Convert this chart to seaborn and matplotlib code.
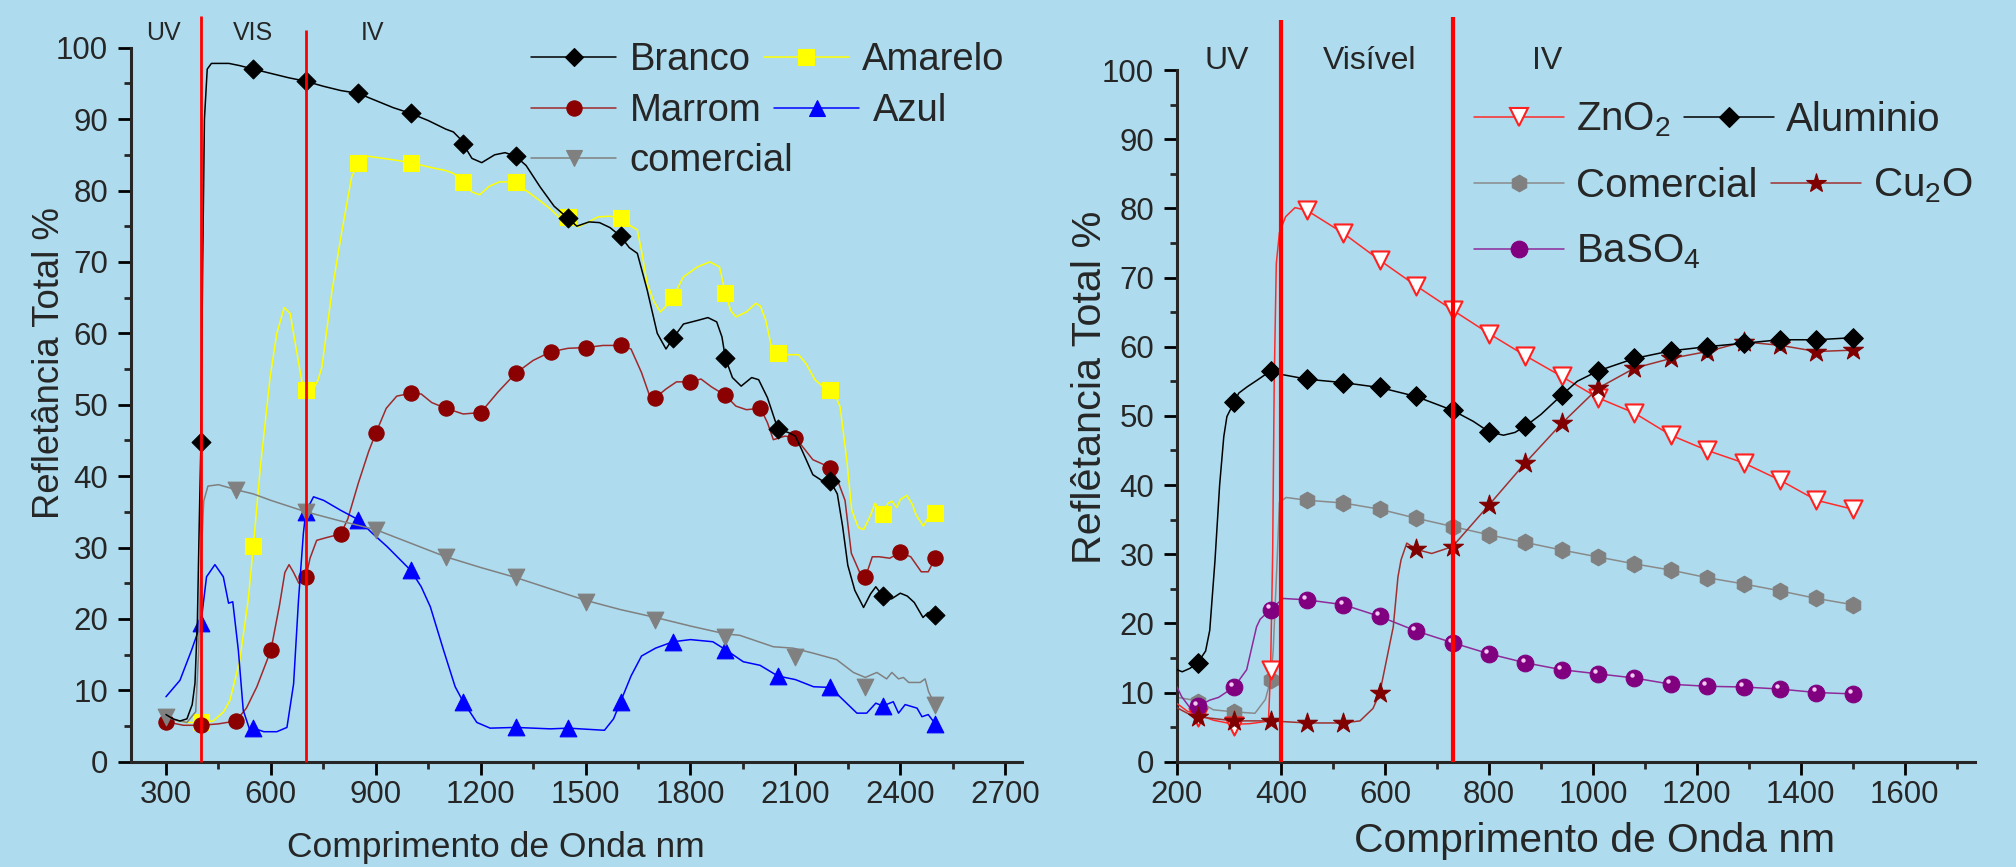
import numpy as np
import pandas as pd
import matplotlib
matplotlib.use("Agg")
import matplotlib.pyplot as plt
import seaborn as sns
from matplotlib.lines import Line2D
from matplotlib.transforms import offset_copy

# ---------------- LEFT PANEL DATA ----------------
branco_cx = [300, 320, 340, 360, 375, 383, 390, 395, 400, 405, 410, 418, 430, 480, 510, 550, 600, 650, 700, 750,
             800, 850, 900, 950, 1000, 1050, 1100, 1122, 1140, 1150, 1175, 1203, 1240, 1270, 1300, 1330, 1370,
             1410, 1450, 1475, 1510, 1540, 1570, 1600, 1625, 1648, 1676, 1705, 1730, 1750, 1780, 1820, 1850,
             1875, 1890, 1900, 1920, 1945, 1975, 1995, 2020, 2050, 2080, 2100, 2120, 2150, 2175, 2200, 2220,
             2235, 2250, 2270, 2295, 2315, 2330, 2350, 2375, 2400, 2420, 2440, 2465, 2480, 2500]
branco_cy = [6.6, 6.0, 5.7, 6.0, 8.0, 11.0, 20.0, 33.0, 44.8, 70.0, 90.0, 97.0, 97.8, 97.8, 97.5, 97.0, 96.4, 95.8,
             95.3, 94.6, 94.0, 93.6, 92.6, 91.6, 90.8, 89.8, 88.6, 88.2, 87.3, 86.5, 84.5, 83.9, 85.0, 85.3, 84.8,
             83.5, 80.5, 77.8, 76.1, 75.0, 75.6, 75.5, 74.8, 73.6, 72.0, 71.2, 66.1, 60.0, 57.8, 59.3, 61.3, 61.8,
             62.2, 61.6, 59.5, 56.5, 53.8, 52.6, 53.8, 53.5, 51.0, 46.6, 46.1, 45.6, 43.5, 40.2, 39.4, 39.3, 37.5,
             33.0, 27.5, 24.0, 21.6, 23.5, 24.5, 23.2, 22.8, 23.6, 23.2, 22.3, 20.2, 20.9, 20.5]
branco_mx = [400, 550, 700, 850, 1000, 1150, 1300, 1450, 1600, 1750, 1900, 2050, 2200, 2350, 2500]
branco_my = [44.8, 97.0, 95.3, 93.6, 90.8, 86.5, 84.8, 76.1, 73.6, 59.3, 56.5, 46.6, 39.3, 23.2, 20.5]

amarelo_cx = [330, 360, 400, 435, 465, 483, 511, 535, 550, 570, 598, 617, 638, 655, 674, 688, 700, 720, 735, 746,
              775, 802, 831, 850, 878, 950, 1000, 1060, 1100, 1122, 1150, 1175, 1197, 1225, 1253, 1300, 1330, 1366,
              1400, 1423, 1450, 1479, 1505, 1535, 1570, 1600, 1630, 1648, 1662, 1676, 1695, 1714, 1730, 1750, 1780,
              1820, 1855, 1883, 1900, 1915, 1930, 1960, 1987, 2000, 2015, 2030, 2050, 2080, 2109, 2130, 2156, 2180,
              2200, 2215, 2228, 2247, 2261, 2280, 2295, 2315, 2328, 2350, 2365, 2376, 2390, 2400, 2419, 2435, 2445,
              2466, 2480, 2500]
amarelo_cy = [5.8, 5.5, 5.5, 5.7, 7.0, 8.6, 14.2, 22.6, 30.2, 41.3, 53.9, 60.0, 63.6, 62.8, 57.4, 53.4, 52.0, 52.0,
              53.5, 55.3, 66.0, 74.0, 81.9, 83.9, 84.8, 84.3, 83.9, 83.2, 82.8, 82.4, 81.2, 79.8, 79.4, 80.6, 81.2,
              81.2, 80.0, 78.7, 77.4, 76.3, 76.3, 74.9, 75.5, 76.3, 76.4, 76.1, 75.0, 74.5, 71.0, 67.0, 64.5, 63.0,
              63.8, 65.1, 67.9, 69.3, 70.0, 69.3, 65.6, 63.2, 62.3, 63.0, 64.2, 63.8, 61.9, 58.5, 57.2, 57.0, 57.0,
              55.8, 53.5, 52.5, 52.1, 51.2, 49.7, 42.3, 35.3, 32.8, 32.5, 34.5, 36.2, 34.7, 36.2, 36.5, 35.6, 36.7,
              37.3, 36.0, 34.6, 33.0, 34.2, 34.9]
amarelo_mx = [400, 550, 700, 850, 1000, 1150, 1300, 1450, 1600, 1750, 1900, 2050, 2200, 2350, 2500]
amarelo_my = [5.5, 30.2, 52.0, 83.9, 83.9, 81.2, 81.2, 76.3, 76.1, 65.1, 65.6, 57.2, 52.1, 34.7, 34.9]

marrom_cx = [300, 350, 400, 450, 500, 530, 560, 600, 625, 640, 652, 665, 680, 700, 712, 731, 760, 800, 820, 850,
             880, 900, 930, 960, 1000, 1030, 1060, 1100, 1150, 1200, 1250, 1300, 1350, 1400, 1450, 1500, 1550,
             1600, 1630, 1660, 1685, 1700, 1730, 1760, 1800, 1830, 1860, 1900, 1930, 1960, 2000, 2020, 2037,
             2070, 2100, 2150, 2200, 2220, 2242, 2260, 2285, 2300, 2320, 2340, 2370, 2400, 2430, 2460, 2480, 2500]
marrom_cy = [5.6, 5.1, 5.1, 5.3, 5.7, 7.5, 10.5, 15.6, 22.0, 26.5, 27.6, 26.5, 25.0, 25.8, 28.5, 31.0, 31.4, 31.9,
             34.0, 39.0, 43.5, 46.0, 49.5, 51.2, 51.6, 51.5, 50.3, 49.5, 48.7, 48.9, 51.8, 54.4, 56.2, 57.4, 57.9,
             58.0, 58.3, 58.3, 57.8, 54.5, 51.0, 51.0, 52.2, 53.2, 53.2, 53.6, 52.5, 51.3, 49.8, 49.3, 49.5, 47.5,
             45.1, 45.6, 45.4, 42.3, 41.2, 39.5, 36.6, 29.2, 26.4, 25.8, 28.7, 28.7, 28.5, 29.3, 28.7, 26.6, 26.6,
             28.5]
marrom_mx = [300, 400, 500, 600, 700, 800, 900, 1000, 1100, 1200, 1300, 1400, 1500, 1600, 1700, 1800, 1900, 2000,
             2100, 2200, 2300, 2400, 2500]
marrom_my = [5.6, 5.1, 5.7, 15.6, 25.8, 31.9, 46.0, 51.6, 49.5, 48.9, 54.4, 57.4, 58.0, 58.3, 51.0, 53.2, 51.3,
             49.5, 45.4, 41.2, 25.8, 29.3, 28.5]

azul_cx = [300, 340, 373, 400, 416, 440, 464, 479, 491, 507, 521, 540, 550, 580, 617, 646, 665, 679, 693, 700, 722,
           751, 800, 850, 890, 933, 1000, 1030, 1056, 1094, 1127, 1150, 1189, 1227, 1300, 1400, 1450, 1554, 1580,
           1600, 1630, 1660, 1700, 1750, 1800, 1864, 1900, 1951, 1999, 2050, 2100, 2152, 2200, 2240, 2276, 2304,
           2330, 2350, 2380, 2395, 2414, 2448, 2462, 2480, 2500]
azul_cy = [9.1, 11.4, 15.6, 19.4, 25.9, 27.6, 25.9, 22.2, 22.4, 15.6, 7.2, 4.4, 4.7, 4.2, 4.2, 4.8, 10.9, 22.6, 32.0,
           35.0, 37.1, 36.6, 35.2, 33.9, 32.0, 30.1, 26.8, 24.5, 21.7, 15.6, 10.5, 8.4, 5.5, 4.7, 4.8, 4.6, 4.7,
           4.4, 6.0, 8.4, 12.0, 14.8, 15.9, 16.8, 17.1, 16.8, 15.7, 14.0, 13.5, 12.0, 11.5, 10.5, 10.4, 8.5, 6.8,
           6.8, 8.2, 7.8, 8.4, 6.8, 8.0, 7.5, 6.3, 6.6, 5.3]
azul_mx = [400, 550, 700, 850, 1000, 1150, 1300, 1450, 1600, 1750, 1900, 2050, 2200, 2350, 2500]
azul_my = [19.4, 4.7, 35.0, 33.9, 26.8, 8.4, 4.8, 4.7, 8.4, 16.8, 15.7, 12.0, 10.4, 7.8, 5.3]

comercialL_cx = [300, 330, 360, 385, 393, 400, 408, 420, 450, 500, 550, 600, 650, 700, 800, 900, 1000, 1100, 1200,
                 1300, 1400, 1500, 1600, 1700, 1800, 1900, 1941, 2037, 2094, 2151, 2218, 2266, 2300, 2333, 2361,
                 2376, 2395, 2409, 2424, 2457, 2471, 2481, 2500]
comercialL_cy = [6.3, 5.8, 5.5, 7.0, 15.0, 28.0, 36.5, 38.6, 38.8, 38.1, 37.5, 36.6, 35.8, 35.0, 33.7, 32.5, 30.6,
                 28.7, 27.2, 25.8, 24.2, 22.6, 21.3, 20.2, 19.0, 17.9, 17.7, 16.1, 15.9, 15.2, 14.3, 12.5, 11.8,
                 12.5, 11.6, 12.5, 11.6, 11.8, 11.1, 11.1, 11.6, 9.8, 7.9]
comercialL_mx = [300, 500, 700, 900, 1100, 1300, 1500, 1700, 1900, 2100, 2300, 2500]
comercialL_my = [6.3, 38.1, 35.0, 32.5, 28.7, 25.8, 22.4, 19.8, 17.5, 14.7, 10.5, 7.9]

left_bounds = [400, 700]
left_bound_tops = [104.4, 102.5]
left_regions = ["UV", "VIS", "IV"]
left_region_x = [294, 549, 892]
left_ticks = [300, 600, 900, 1200, 1500, 1800, 2100, 2400, 2700]

# ---------------- RIGHT PANEL DATA ----------------
right_mx = [240, 310, 380, 450, 520, 590, 660, 730, 800, 870, 940, 1010, 1080, 1150, 1220, 1290, 1360, 1430, 1500]

zno_cx = [200, 220, 240, 270, 310, 340, 370, 376, 380, 384, 387, 391, 397, 409, 427, 450, 520, 590, 660, 730, 800,
          870, 940, 1010, 1080, 1150, 1220, 1290, 1360, 1430, 1500]
zno_cy = [8.4, 7.3, 6.8, 6.0, 5.4, 5.5, 5.8, 6.0, 13.3, 30.0, 55.0, 72.0, 76.5, 78.8, 80.1, 79.7, 76.4, 72.5, 68.8,
          65.3, 61.9, 58.7, 55.7, 52.6, 50.4, 47.2, 45.0, 43.2, 40.7, 37.8, 36.5]
zno_my = [6.5, 5.1, 13.3, 79.7, 76.4, 72.5, 68.8, 65.3, 61.9, 58.7, 55.7, 52.6, 50.4, 47.2, 45.0, 43.2, 40.7, 37.8,
          36.5]

alu_cx = [200, 210, 225, 240, 255, 263, 273, 282, 290, 296, 310, 319, 335, 355, 380, 400, 450, 520, 590, 660, 730,
          770, 800, 828, 850, 870, 900, 940, 970, 1010, 1080, 1150, 1220, 1290, 1360, 1430, 1500]
alu_cy = [13.3, 13.0, 13.5, 14.3, 16.0, 19.0, 29.0, 40.0, 47.0, 49.9, 52.0, 53.3, 54.2, 55.2, 56.5, 56.0, 55.3,
          54.8, 54.1, 52.8, 50.8, 49.2, 47.7, 47.2, 47.6, 48.5, 50.2, 53.0, 55.0, 56.5, 58.3, 59.4, 60.0, 60.5,
          61.0, 61.0, 61.3]
alu_my = [14.3, 52.0, 56.5, 55.3, 54.8, 54.1, 52.8, 50.8, 47.7, 48.5, 53.0, 56.5, 58.3, 59.4, 60.0, 60.5, 61.0, 61.0,
          61.3]

comR_cx = [200, 240, 270, 310, 350, 370, 380, 385, 392, 397, 410, 450, 520, 590, 660, 730, 800, 870, 940, 1010,
           1080, 1150, 1220, 1290, 1360, 1430, 1500]
comR_cy = [9.3, 8.8, 7.5, 7.2, 7.0, 9.0, 11.8, 16.0, 28.0, 37.5, 38.2, 37.8, 37.4, 36.5, 35.2, 34.0, 32.8, 31.7,
           30.6, 29.6, 28.6, 27.7, 26.6, 25.7, 24.7, 23.6, 22.7]
comR_my = [8.6, 7.2, 11.8, 37.8, 37.4, 36.5, 35.2, 34.0, 32.8, 31.7, 30.6, 29.6, 28.6, 27.7, 26.6, 25.7, 24.7, 23.6,
           22.7]

cu_cx = [200, 220, 240, 310, 380, 450, 520, 552, 577, 590, 616, 625, 631, 642, 660, 690, 730, 800, 870, 940, 1010,
         1080, 1150, 1220, 1290, 1360, 1430, 1500]
cu_cy = [7.8, 7.0, 6.5, 5.9, 5.9, 5.6, 5.6, 5.9, 7.7, 9.9, 19.5, 26.7, 29.2, 31.6, 30.7, 30.1, 31.1, 37.1, 43.2,
         48.9, 54.0, 56.9, 58.3, 59.3, 60.7, 60.2, 59.3, 59.5]
cu_my = [6.5, 5.9, 5.9, 5.6, 5.6, 9.9, 30.7, 31.1, 37.1, 43.2, 48.9, 54.0, 56.9, 58.3, 59.3, 60.7, 60.2, 59.3, 59.5]

ba_cx = [200, 209, 225, 240, 263, 280, 310, 334, 353, 360, 380, 404, 450, 520, 590, 660, 730, 800, 870, 940, 1010,
         1080, 1150, 1220, 1290, 1360, 1430, 1500]
ba_cy = [10.8, 9.4, 7.8, 8.0, 8.9, 9.3, 10.8, 13.3, 19.5, 20.6, 22.0, 23.6, 23.4, 22.7, 21.0, 18.9, 17.2, 15.6,
         14.3, 13.3, 12.7, 12.1, 11.2, 10.9, 10.8, 10.5, 10.0, 9.8]
ba_my = [8.0, 10.8, 22.0, 23.4, 22.7, 21.0, 18.9, 17.2, 15.6, 14.3, 13.3, 12.7, 12.1, 11.2, 10.9, 10.8, 10.5, 10.0,
         9.8]

right_bounds = [400, 730]
right_bound_tops = [107.2, 107.7]
right_regions = ["UV", "Visível", "IV"]
right_region_x = [296, 571, 912]
right_ticks = [200, 400, 600, 800, 1000, 1200, 1400, 1600]

# ---------------- STYLE ----------------
BG = "#aedcee"
sns.set_style("ticks")
plt.rcParams["font.family"] = ["Liberation Sans", "DejaVu Sans"]
plt.rcParams["mathtext.fontset"] = "custom"
plt.rcParams["mathtext.rm"] = "Liberation Sans"
plt.rcParams["mathtext.it"] = "Liberation Sans:italic"
plt.rcParams["mathtext.bf"] = "Liberation Sans:bold"
plt.rcParams["mathtext.default"] = "regular"

W, H = 2016, 867
fig = plt.figure(figsize=(W / 100, H / 100), dpi=100, facecolor=BG)
axL = fig.add_axes([131 / W, 105.3 / H, (1021.6 - 131) / W, (819.3 - 105.3) / H])
axR = fig.add_axes([1177 / W, 105.3 / H, (1975 - 1177) / W, (797 - 105.3) / H])


def draw(ax, cx, cy, mx, my, lcolor, marker, mface, ms, medge=None, lw=1.1, z=2, mew=0.8):
    sns.lineplot(x=cx, y=cy, ax=ax, color=lcolor, linewidth=lw, sort=False, estimator=None, zorder=z)
    sns.scatterplot(x=mx, y=my, ax=ax, marker=marker, color=mface, s=ms ** 2,
                    edgecolor=medge if medge else mface, linewidth=mew, zorder=z + 0.5, legend=False)
    return Line2D([], [], color=lcolor, lw=lw, marker=marker, markersize=ms, markerfacecolor=mface,
                  markeredgecolor=medge if medge else mface, markeredgewidth=mew)


# left panel
hA = draw(axL, amarelo_cx, amarelo_cy, amarelo_mx, amarelo_my, "#ffff00", "s", "#ffff00", 12, z=2)
hM = draw(axL, marrom_cx, marrom_cy, marrom_mx, marrom_my, "#a0282a", "o", "#8b0000", 11, z=3)
hZ = draw(axL, azul_cx, azul_cy, azul_mx, azul_my, "#0000ff", "^", "#0000ff", 12, z=4)
hC = draw(axL, comercialL_cx, comercialL_cy, comercialL_mx, comercialL_my, "#808080", "v", "#808080", 12, z=5)
hB = draw(axL, branco_cx, branco_cy, branco_mx, branco_my, "#000000", "D", "#000000", 9.6, z=6)

# right panel
hCR = draw(axR, comR_cx, comR_cy, right_mx, comR_my, "#8a8a8a", "h", "#808080", 12, z=2)
hZn = draw(axR, zno_cx, zno_cy, right_mx, zno_my, "#ff2a2a", "v", "#ffffff", 13, medge="#ff2020", z=3, mew=1.5)
hBa = draw(axR, ba_cx, ba_cy, right_mx, ba_my, "#8e2a9a", "o", "#800080", 12, z=4)
off = offset_copy(axR.transData, fig=fig, x=-2.0, y=2.2, units="points")
axR.scatter(right_mx, ba_my, s=10, color="#f2c8f2", transform=off, zorder=4.6, linewidths=0)
hCu = draw(axR, cu_cx, cu_cy, right_mx, cu_my, "#a03030", "*", "#800000", 15, z=5)
hAl = draw(axR, alu_cx, alu_cy, right_mx, alu_my, "#000000", "D", "#000000", 10, z=6)

for ax, bounds, tops, lw in [(axL, left_bounds, left_bound_tops, 2.0), (axR, right_bounds, right_bound_tops, 3.0)]:
    for b, t in zip(bounds, tops):
        ax.plot([b, b], [0, t], color="#ff0000", lw=lw, clip_on=False, zorder=10, solid_capstyle="butt")

for name, x in zip(left_regions, left_region_x):
    axL.text(x, 102.0, name, ha="center", va="center", fontsize=18, clip_on=False)
for name, x in zip(right_regions, right_region_x):
    axR.text(x, 101.3, name, ha="center", va="center", fontsize=23, clip_on=False)

# axes formatting
for ax in (axL, axR):
    ax.set_facecolor(BG)
    sns.despine(ax=ax)
    ax.spines["left"].set_linewidth(2.2)
    ax.spines["bottom"].set_linewidth(2.2)
    ax.set_ylim(0, 100)
    ax.set_yticks([0, 10, 20, 30, 40, 50, 60, 70, 80, 90, 100])
    ax.set_yticks([5, 15, 25, 35, 45, 55, 65, 75, 85, 95], minor=True)
    ax.tick_params(axis="both", which="major", length=9.4, width=2.0, labelsize=22.5, color="black",
                   direction="out")
    ax.tick_params(axis="both", which="minor", length=5, width=2.0, direction="out")
    ax.tick_params(axis="x", which="major", pad=4)
    ax.tick_params(axis="y", which="major", pad=7)

axL.set_xlim(200, 2747)
axL.set_xticks(left_ticks)
axL.set_xticks([450, 750, 1050, 1350, 1650, 1950, 2250, 2550], minor=True)
axR.set_xlim(200, 1735)
axR.set_xticks(right_ticks)
axR.set_xticks([300, 500, 700, 900, 1100, 1300, 1500, 1700], minor=True)

axL.set_xlabel("Comprimento de Onda nm", fontsize=25.5, va="center")
axL.xaxis.set_label_coords(0.41, -0.1195)
axL.set_ylabel("Refletância Total %", fontsize=26.3, va="center")
axL.yaxis.set_label_coords(-0.092, 0.558)

axR.set_xlabel("Comprimento de Onda nm", fontsize=29.3, va="center")
axR.xaxis.set_label_coords(0.5226, -0.1147)
axR.set_ylabel("Reflêtancia Total %", fontsize=29.8, va="center")
axR.yaxis.set_label_coords(-0.109, 0.541)


def row_legend(handles, labels, x_px, y_px, fs, hl, htp, cs):
    leg = fig.legend(handles=handles, labels=labels, loc="center left",
                     bbox_to_anchor=(x_px / W, 1 - y_px / H), ncol=len(handles), frameon=False,
                     fontsize=fs, handlelength=hl, handletextpad=htp, columnspacing=cs,
                     borderpad=0, borderaxespad=0)
    return leg


row_legend([hB, hA], ["Branco", "Amarelo"], 531, 60.5, 27.5, 2.23, 0.35, 0.34)
row_legend([hM, hZ], ["Marrom", "Azul"], 531, 111, 27.5, 2.23, 0.35, 0.34)
row_legend([hC], ["comercial"], 531, 161, 27.5, 2.23, 0.35, 0.34)

row_legend([hZn, hAl], ["ZnO$_2$", "Aluminio"], 1474, 120, 29, 2.23, 0.3, 0.33)
row_legend([hCR, hCu], ["Comercial", "Cu$_2$O"], 1474, 186, 29, 2.23, 0.3, 0.33)
row_legend([hBa], ["BaSO$_4$"], 1474, 252, 29, 2.23, 0.3, 0.33)

fig.savefig("out.png", dpi=100, facecolor=BG)
